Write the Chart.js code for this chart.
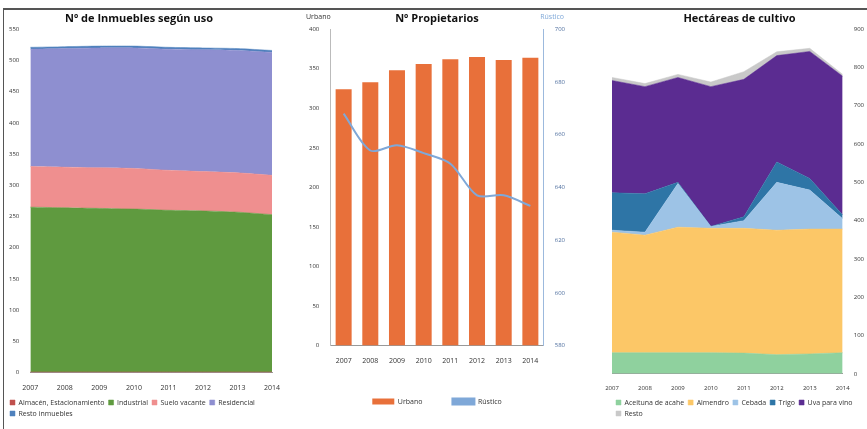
<!DOCTYPE html>
<html><head><meta charset="utf-8">
<script src="https://cdn.jsdelivr.net/npm/chart.js@4.4.1/dist/chart.umd.min.js"></script>
<style>
body{margin:0;background:#fff;font-family:"Open Sans",sans-serif;}
#frame{position:absolute;left:3px;top:8px;width:864px;height:421px;border-left:1px solid #555;border-top:2px solid #555;}
.c{position:absolute;top:12px;height:417px;}
</style></head><body>
<div id="frame"></div>
<div class="c" style="left:4px;width:282px"><canvas id="c1"></canvas></div>
<div class="c" style="left:306px;width:262px"><canvas id="c2"></canvas></div>
<div class="c" style="left:598px;width:269px"><canvas id="c3"></canvas></div>
<script>
const years=['2007','2008','2009','2010','2011','2012','2013','2014'];
// Chart 1
const almacen=[1,1,1,1,1,1,1,1];
const industrial=[264,263,262,261,259,258,256,252];
const sueloVacante=[65,65,65,65,64,63,63,63];
const residencial=[188,190,192,193,194,195,196,197];
const resto1=[3,3,3,3,3,3,3,3];
// Chart 2
const urbano=[324,333,348,356,362,365,361,364];
const rustico=[668,654,656,653,649,637,637,633];
// Chart 3
const aceituna=[55,55,55,55,54,50,52,55];
const almendro=[315,307,328,325,326,325,326,323];
const cebada=[5,8,114,5,20,125,102,27];
const trigo=[98,100,3,0,10,53,30,10];
const uva=[293,280,274,365,359,278,332,362];
const resto3=[8,8,8,12,20,10,8,5];

Chart.defaults.font.family='"Open Sans",sans-serif';
Chart.defaults.font.size=7;
Chart.defaults.color='#333';
Chart.defaults.animation=false;
const common={responsive:true,maintainAspectRatio:false};
const titleOpt=t=>({display:true,text:t,font:{size:11,weight:'bold'},color:'#111',padding:{top:0,bottom:4}});
function area(label,data,color,fill){return {label,data,backgroundColor:color,borderColor:color,borderWidth:0.5,fill,pointRadius:0,tension:0.2};}

new Chart(document.getElementById('c1'),{type:'line',data:{labels:years,datasets:[
 area('Almacén, Estacionamiento',almacen,'#c0504d','origin'),
 area('Industrial',industrial,'#5f9a3f','-1'),
 area('Suelo vacante',sueloVacante,'#ef8f8f','-1'),
 area('Residencial',residencial,'#8e8fd0','-1'),
 area('Resto inmuebles',resto1,'#4f81bd','-1')]},
 options:{...common,layout:{padding:{left:2,right:14,bottom:2}},
 plugins:{title:titleOpt('Nº de Inmuebles según uso'),legend:{position:'bottom',align:'start',labels:{boxWidth:5,boxHeight:5,padding:4,font:{size:7}}}},
 scales:{x:{offset:false,grid:{display:false},border:{color:'#999'},ticks:{font:{size:7}}},
 y:{stacked:true,min:0,max:550,ticks:{stepSize:50,font:{size:6}},grid:{display:false},border:{display:false}}}}});

new Chart(document.getElementById('c2'),{type:'bar',data:{labels:years,datasets:[
 {type:'line',label:'Rústico',data:rustico,yAxisID:'y1',borderColor:'#7fa8d8',backgroundColor:'#7fa8d8',borderWidth:2,pointRadius:0,tension:0.3},
 {label:'Urbano',data:urbano,yAxisID:'y',backgroundColor:'#e8703a',barPercentage:0.6,categoryPercentage:1}]},
 options:{...common,layout:{padding:{bottom:14}},
 plugins:{title:titleOpt('Nº Propietarios'),legend:{position:'bottom',reverse:true,labels:{boxWidth:22,boxHeight:6,padding:30,font:{size:7}}}},
 scales:{x:{grid:{display:false},border:{color:'#999'},ticks:{font:{size:7}}},
 y:{min:0,max:400,ticks:{stepSize:50,font:{size:6}},grid:{display:false},border:{color:'#bbb'}},
 y1:{position:'right',min:580,max:700,ticks:{stepSize:20,color:'#4f6f9f',font:{size:6}},grid:{display:false},border:{color:'#9cb9dd'}}}},
 plugins:[{id:'axt',afterDraw(c){const x=c.ctx;x.save();x.font='7px "Open Sans"';x.fillStyle='#333';x.textAlign='left';x.fillText('Urbano',c.scales.y.left,c.scales.y.top-12);x.fillStyle='#7fa8d8';x.textAlign='right';x.fillText('Rústico',c.scales.y1.right-4,c.scales.y1.top-12);x.restore();}}]});

function a3(label,data,color,fill){return {label,data,backgroundColor:color,borderColor:color,borderWidth:0.5,fill,pointRadius:0,tension:0};}
new Chart(document.getElementById('c3'),{type:'line',data:{labels:years,datasets:[
 a3('Aceituna de acahe',aceituna,'#8fd19e','origin'),
 a3('Almendro',almendro,'#fcc767','-1'),
 a3('Cebada',cebada,'#9dc3e6','-1'),
 a3('Trigo',trigo,'#2e75a6','-1'),
 a3('Uva para vino',uva,'#5b2c91','-1'),
 a3('Resto',resto3,'#c9c9c9','-1')]},
 options:{...common,layout:{padding:{left:14,bottom:2}},
 plugins:{title:titleOpt('Hectáreas de cultivo'),legend:{position:'bottom',align:'start',labels:{boxWidth:5,boxHeight:5,padding:4,font:{size:7}}}},
 scales:{x:{offset:false,grid:{display:false},border:{color:'#999'},ticks:{font:{size:6}}},
 y:{stacked:true,position:'right',min:0,max:900,ticks:{stepSize:100,font:{size:6}},grid:{display:false},border:{display:false}}}}});
</script></body></html>
